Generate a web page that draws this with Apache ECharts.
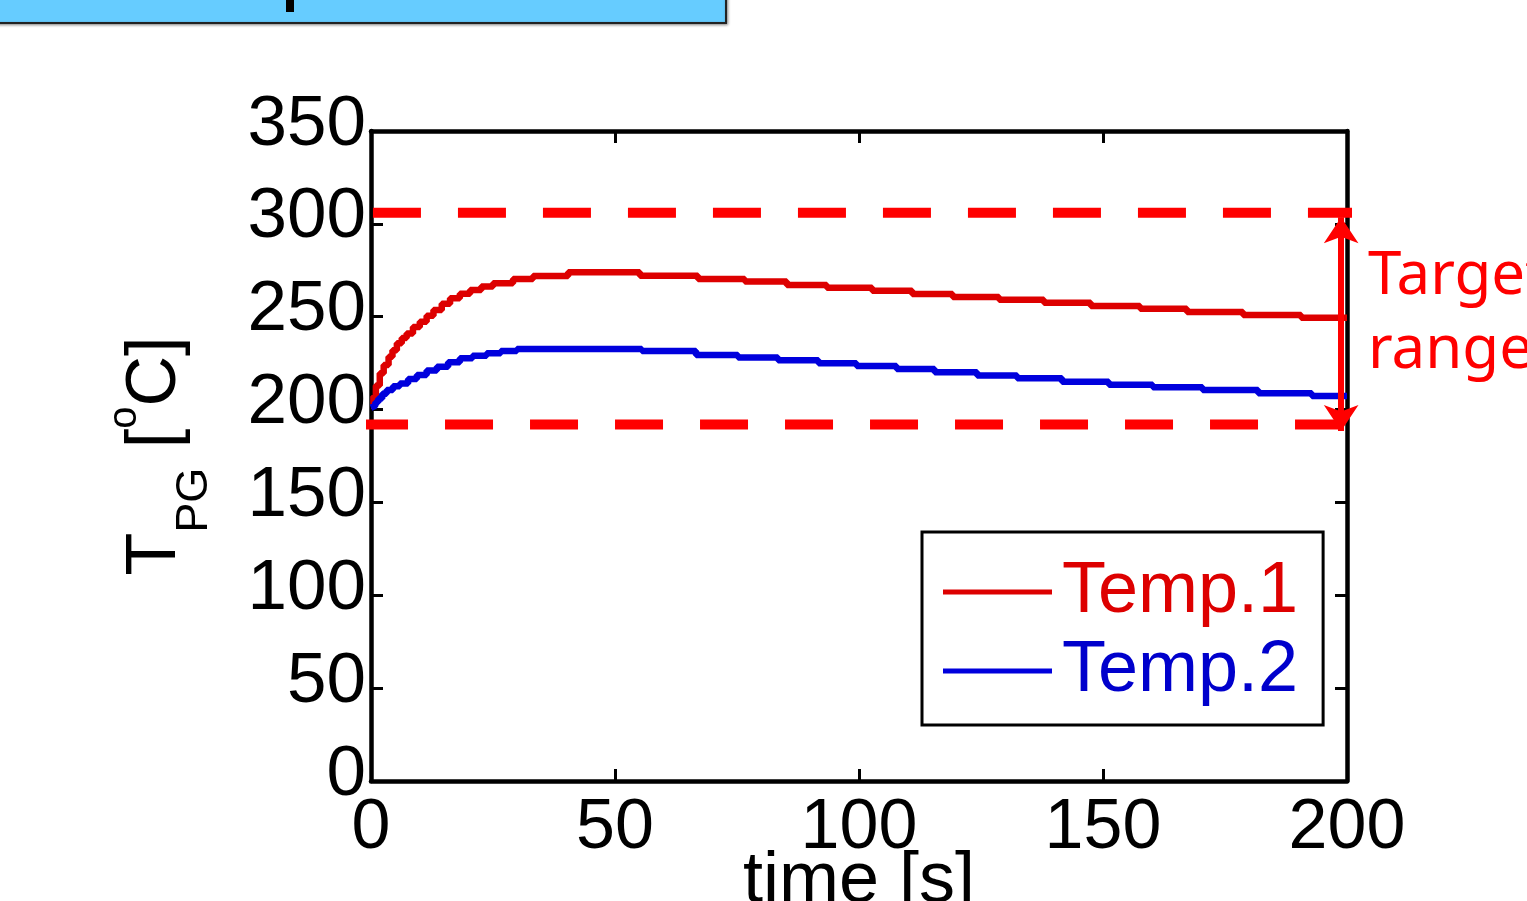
<!DOCTYPE html>
<html lang="en">
<head>
    <meta charset="UTF-8">
    <title>T_PG vs time</title>
    <script src="https://cdn.jsdelivr.net/npm/echarts@6/dist/echarts.min.js"></script>
    <style>
        html, body { margin: 0; padding: 0; background: #fff; }
        #main { width: 1527px; height: 901px; }
    </style>
</head>
<body>
<div id="main"></div>
<script type="text/javascript">
    // axis ticks
    var xTicks = [0, 50, 100, 150, 200];
    var yTicks = [0, 50, 100, 150, 200, 250, 300, 350];

    // Temp.1 (red) - time [s] and temperature [oC]
    var time1 = [0, 0.5, 1, 1.8, 2.6, 3.6, 4.4, 5.3, 6.3, 7.3, 8.6, 10, 11.4, 12.8, 14.5, 16.2, 18.2, 20.3, 22.6, 25, 29.1, 33.2, 40.4,
        55.1, 67, 76.6, 85.2, 93.4, 102.7, 110.9, 119.2, 128.7, 137.9, 147.5, 157.6, 167.2, 178.7, 190.6, 200];
    var temp1 = [202, 207, 213, 219.5, 224, 228.5, 232, 235.7, 238.5, 241, 244.5, 247.3, 250.5, 253.6, 257, 259.9, 262.3, 264.4, 266.3, 268, 270.3, 271.9, 273.9,
        272, 270.3, 268.9, 267.1, 265.6, 264, 262.2, 260.6, 259.2, 257.5, 255.8, 254.3, 252.5, 250.9, 249.5, 249.5];

    // Temp.2 (blue)
    var time2 = [0, 0.4, 0.9, 1.5, 2.3, 3.2, 4.5, 5.9, 7.6, 9.4, 11.4, 13.5, 15.8, 18.2, 20.8, 23.7, 26.6, 29.9,
        55.5, 66.6, 75.2, 83.4, 91.7, 99.5, 107.7, 115.5, 124.2, 132.4, 141.6, 151.2, 160.2, 170.4, 181.8, 192.8, 200];
    var temp2 = [201, 202, 204, 206, 208.5, 210.5, 212.5, 214.1, 216.5, 218.6, 221, 223, 225.5, 227.6, 229, 230.3, 231.5, 232.6,
        231.5, 229.4, 228.1, 226.5, 224.9, 223.5, 221.9, 220.1, 218.4, 216.8, 215, 213.4, 212, 210.5, 208.8, 207.3, 207.3];

    // target range limits and how far the dashed lines run
    var targetHigh = 306;
    var targetLow = 192;
    var highSpan = [0.4, 202.3];
    var lowSpan = [-2.25, 199.6];
    var arrowX = 198.8;
    var arrowEnds = [303.5, 188.5];

    var seriesNames = ['Temp.1', 'Temp.2'];

    function pairs(xs, ys) {
        var out = [];
        for (var i = 0; i < xs.length; i++) {
            out.push([xs[i], ys[i]]);
        }
        return out;
    }

    var FONT = 'Liberation Sans, Arial, sans-serif';
    var chart = echarts.init(document.getElementById('main'));

    var axisCommon = {
        type: 'value',
        splitLine: {show: false},
        axisLine: {show: true, onZero: false, lineStyle: {color: '#000', width: 4.5}},
        axisTick: {show: true, inside: true, length: 12, lineStyle: {color: '#000', width: 3}}
    };

    var option = {
        backgroundColor: '#fff',
        animation: false,
        grid: {left: 371, top: 131, width: 976, height: 650, containLabel: false, outerBoundsMode: 'none'},
        legend: {
            orient: 'vertical',
            left: 922,
            top: 532,
            padding: [24, 25, 18, 21],
            borderColor: '#000',
            borderWidth: 3,
            itemWidth: 109,
            itemHeight: 5,
            itemGap: 7,
            icon: 'rect',
            selectedMode: false,
            textStyle: {fontFamily: FONT, fontSize: 72, lineHeight: 70, padding: [0, 0, 0, 5]},
            data: [
                {name: seriesNames[0], textStyle: {color: '#DD0000'}},
                {name: seriesNames[1], textStyle: {color: '#0000CC'}}
            ]
        },
        xAxis: [
            Object.assign({}, axisCommon, {
                min: xTicks[0], max: xTicks[xTicks.length - 1], interval: 50,
                position: 'bottom',
                axisLabel: {color: '#000', fontFamily: FONT, fontSize: 70, margin: 13},
                name: 'time [s]',
                nameLocation: 'middle',
                nameGap: 65,
                nameMoveOverlap: false,
                nameTextStyle: {color: '#000', fontFamily: FONT, fontSize: 72}
            }),
            Object.assign({}, axisCommon, {
                min: xTicks[0], max: xTicks[xTicks.length - 1], interval: 50,
                position: 'top',
                axisLabel: {show: false}
            })
        ],
        yAxis: [
            Object.assign({}, axisCommon, {
                min: yTicks[0], max: yTicks[yTicks.length - 1], interval: 50,
                position: 'left',
                axisLabel: {color: '#000', fontFamily: FONT, fontSize: 71, margin: 5, verticalAlign: 'bottom', lineHeight: 12},
                name: '{t|T}{s|PG}{t| [}{o|o}{t|C]}',
                nameLocation: 'middle',
                nameRotate: 90,
                nameGap: 149,
                nameMoveOverlap: false,
                nameTextStyle: {
                    color: '#000',
                    fontFamily: FONT,
                    rich: {
                        t: {fontFamily: FONT, fontSize: 70, lineHeight: 133, verticalAlign: 'middle', color: '#000'},
                        s: {fontFamily: FONT, fontSize: 45, lineHeight: 45, verticalAlign: 'bottom', padding: [0, 0, 5, 0], color: '#000'},
                        o: {fontFamily: FONT, fontSize: 40, lineHeight: 40, verticalAlign: 'top', padding: [16, 0, 0, 0], color: '#000'}
                    }
                }
            }),
            Object.assign({}, axisCommon, {
                min: yTicks[0], max: yTicks[yTicks.length - 1], interval: 50,
                position: 'right',
                axisLabel: {show: false}
            })
        ],
        graphic: [
            {
                type: 'rect',
                shape: {x: -10, y: -10, width: 736, height: 33},
                style: {fill: '#66CCFF', stroke: '#222', lineWidth: 2, shadowBlur: 3, shadowOffsetX: 1, shadowOffsetY: 1, shadowColor: 'rgba(0,0,0,0.4)'}
            },
            {
                type: 'rect',
                shape: {x: 286, y: 0, width: 8, height: 12},
                style: {fill: '#000'}
            },
            {
                type: 'text',
                left: 1368,
                top: 240,
                style: {
                    text: 'Target\nrange',
                    font: '60px "Noto Sans"',
                    fill: '#FF0000',
                    lineHeight: 74
                }
            }
        ],
        series: [
            {
                name: seriesNames[0],
                type: 'line',
                step: 'end',
                symbol: 'none',
                color: '#DD0000',
                lineStyle: {width: 6.5, color: '#DD0000'},
                data: pairs(time1, temp1),
                z: 3
            },
            {
                name: seriesNames[1],
                type: 'line',
                step: 'end',
                symbol: 'none',
                color: '#0000DD',
                lineStyle: {width: 6.5, color: '#0000DD'},
                data: pairs(time2, temp2),
                z: 3
            },
            {
                name: 'Target high',
                type: 'line',
                symbol: 'none',
                clip: false,
                lineStyle: {width: 10, color: '#FF0000', type: [48, 37], cap: 'butt'},
                data: [[highSpan[0], targetHigh], [highSpan[1], targetHigh]],
                z: 4,
                markLine: {
                    silent: true,
                    symbol: ['arrow', 'arrow'],
                    symbolSize: [26, 26],
                    label: {show: false},
                    lineStyle: {color: '#FF0000', width: 6, type: 'solid'},
                    data: [[{coord: [arrowX, arrowEnds[0]]}, {coord: [arrowX, arrowEnds[1]]}]]
                }
            },
            {
                name: 'Target low',
                type: 'line',
                symbol: 'none',
                clip: false,
                lineStyle: {width: 10, color: '#FF0000', type: [48, 37], cap: 'butt'},
                data: [[lowSpan[0], targetLow], [lowSpan[1], targetLow]],
                z: 4
            }
        ]
    };

    chart.setOption(option);
</script>
</body>
</html>
